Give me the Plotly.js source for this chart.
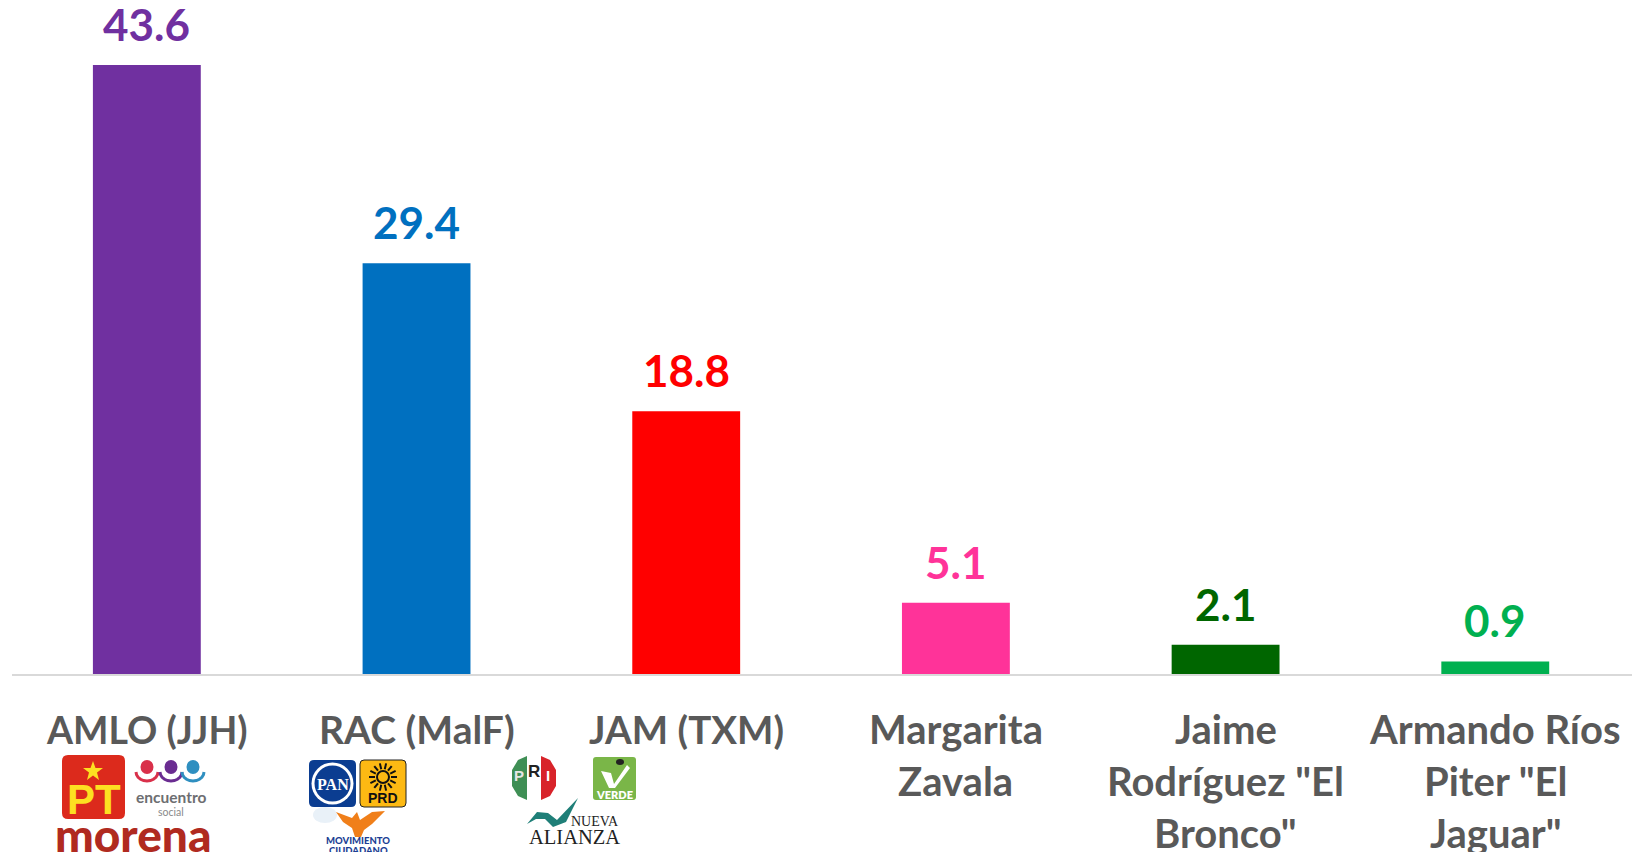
<!DOCTYPE html>
<html><head><meta charset="utf-8">
<script src="https://cdn.plot.ly/plotly-3.0.1.min.js"></script>
<style>html,body{margin:0;padding:0;background:#fff;overflow:hidden}#c{width:1636px;height:852px}</style>
</head><body><div id="c"></div>
<script>
const categories = ['AMLO (JJH)','RAC (MalF)','JAM (TXM)','Margarita Zavala','Jaime Rodríguez "El Bronco"','Armando Ríos Piter "El Jaguar"'];
const categoryLines = [['AMLO (JJH)'],['RAC (MalF)'],['JAM (TXM)'],['Margarita','Zavala'],['Jaime','Rodríguez "El','Bronco"'],['Armando Ríos','Piter "El','Jaguar"']];
const categorySizes = [37.5,39,38.5,40,40,40];
const values = [43.6,29.4,18.8,5.1,2.1,0.9];
const valueLabels = ['43.6','29.4','18.8','5.1','2.1','0.9'];
const barColors = ['#7030a0','#0070c0','#ff0000','#ff3399','#006600','#00b050'];

const W=1636,H=852,L=12,R=1632,T=0,B=674;
const FONT='Lato, Carlito, sans-serif';
const px=x=>(x-L)/(R-L), py=y=>(B-y)/(B-T);
const shapes=[], notes=[];
function rect(x0,y0,x1,y1,fill,line,lw,r){
  r=r||0;
  const P=(x,y)=>px(x)+','+py(y);
  const d='M'+P(x0+r,y0)+'L'+P(x1-r,y0)+'Q'+P(x1,y0)+' '+P(x1,y0+r)+'L'+P(x1,y1-r)+'Q'+P(x1,y1)+' '+P(x1-r,y1)+'L'+P(x0+r,y1)+'Q'+P(x0,y1)+' '+P(x0,y1-r)+'L'+P(x0,y0+r)+'Q'+P(x0,y0)+' '+P(x0+r,y0)+'Z';
  shapes.push({type:'path',xref:'paper',yref:'paper',path:d,fillcolor:fill,line:{color:line||fill,width:lw||0}});
}
function ell(cx,cy,rx,ry,fill,line,lw){shapes.push({type:'circle',xref:'paper',yref:'paper',x0:px(cx-rx),x1:px(cx+rx),y0:py(cy+ry),y1:py(cy-ry),fillcolor:fill,line:{color:line||fill,width:lw||0}});}
function poly(pts,fill,line,lw,open){const d='M'+pts.map(p=>px(p[0])+','+py(p[1])).join('L')+(open?'':'Z');shapes.push({type:'path',xref:'paper',yref:'paper',path:d,fillcolor:open?'rgba(0,0,0,0)':fill,line:{color:line||fill,width:lw||0}});}
function txt(s,x,y,size,color,weight,family){notes.push({text:s,xref:'paper',yref:'paper',x:px(x),y:py(y),xanchor:'center',yanchor:'middle',showarrow:false,borderpad:0,font:{family:family||FONT,size:size,color:color,weight:weight||400}});}

// value labels, anchored on the data scale
valueLabels.forEach((t,i)=>notes.push({text:t,x:i,y:values[i],xref:'x',yref:'y',yanchor:'bottom',xanchor:'center',yshift:13,showarrow:false,font:{family:FONT,size:44,color:barColors[i],weight:700}}));

// category labels, one text per line for the reference's line pitch
categoryLines.forEach((lines,i)=>lines.forEach((t,j)=>notes.push({text:t,x:i,xref:'x',yref:'paper',y:0,yanchor:'middle',xanchor:'center',yshift:-(55+52*j),showarrow:false,borderpad:0,font:{family:FONT,size:categorySizes[i],color:'#595959',weight:700}})));

// --- party logos (decoration under the axis labels) ---
// PT
rect(62,755,125,819,'#dc2a1c',null,0,6);
poly([[93,761],[95.5,768],[103,768],[97,772.5],[99,780],[93,775.5],[87,780],[89,772.5],[83,768],[90.5,768]],'#fde021');
txt('PT',93.5,799,42,'#fde021',900,'Liberation Sans');
// encuentro social
[[147,'#d9304a'],[171,'#6a2c91'],[193,'#2f8fc0']].forEach(c=>{
  ell(c[0],767,6.5,7,c[1]);
  const a=[];for(let t=0;t<=10;t++){const th=Math.PI*t/10;a.push([c[0]+11*Math.cos(th),772+9*Math.sin(th)]);}
  poly(a,null,c[1],3,true);
});
txt('encuentro',171,797,15.5,'#6d6e71',700);
txt('social',171,812,10.5,'#8a8a8a',400);
txt('morena',133,834,46,'#b02a20',900);
// PAN
rect(309,760,356,807,'#0b3d91',null,0,5);
ell(332.5,783.5,21,21,'#ffffff');
ell(332.5,783.5,18,18,'#0b3d91');
txt('PAN',332.5,784,16,'#ffffff',800,'Liberation Sans Narrow');
// PRD
rect(360,760,406,807,'#fdb913','#222222',1,4);
ell(383,777,6,6,'rgba(0,0,0,0)','#111111',2);
for(let i=0;i<14;i++){const th=2*Math.PI*i/14;poly([[383+8*Math.cos(th),777+8*Math.sin(th)],[383+14*Math.cos(th),777+14*Math.sin(th)]],null,'#111111',2,true);}
txt('PRD',383,798,14,'#111111',900,'Liberation Sans');
// Movimiento Ciudadano
ell(325,815,12,8,'#e9f1f8');
poly([[336,812],[352,818],[357,812],[360,820],[372,812],[385,811],[372,824],[364,830],[361,837],[355,837],[352,828],[343,822]],'#f07f1a');
txt('MOVIMIENTO',358,840,9.5,'#1c3f94',900);
txt('CIUDADANO',358,850,9.5,'#1c3f94',900);
// PRI
ell(534,778,22,23,'#ffffff');
poly([[527,756],[518,760],[512,770],[512,786],[518,796],[527,800]],'#3f8f55');
poly([[541,756],[550,760],[556,770],[556,786],[550,796],[541,800]],'#d8232a');
txt('P',519,775,15,'#e6e6e6',900,'Liberation Sans');
txt('R',533.5,771,17,'#222222',900,'Liberation Sans');
txt('I',548,775,15,'#ffffff',900,'Liberation Sans');
// VERDE
rect(593,757,636,800,'#7ab648',null,0,3);
poly([[601,771],[611,773],[614,784],[627,765],[630,768],[615,788],[609,788]],'#ffffff');
ell(620,762,4,3,'#222222');
txt('VERDE',614.5,794,11,'#ffffff',800);
// Nueva Alianza
poly([[527,824],[537,812],[548,813],[557,820],[578,798],[566,822],[553,827],[545,819],[536,819]],'#1f7f78');
txt('NUEVA',595,821,14,'#222222',400,'Liberation Serif');
txt('ALIANZA',574,837,20.5,'#222222',400,'Liberation Serif');

Plotly.newPlot('c',[{type:'bar',x:[0,1,2,3,4,5],y:values,text:categories,width:0.4,marker:{color:barColors,line:{width:0}},textposition:'none',hoverinfo:'text+y'}],{
  width:W,height:H,margin:{l:L,r:W-R,t:T,b:H-B,pad:0},
  paper_bgcolor:'#fff',plot_bgcolor:'#fff',showlegend:false,
  xaxis:{type:'linear',range:[-0.5,5.507],showticklabels:false,ticks:'',showline:true,linecolor:'#d9d9d9',linewidth:2,showgrid:false,zeroline:false,automargin:false},
  yaxis:{range:[0,674/13.97],visible:false,fixedrange:true},
  shapes:shapes,annotations:notes
},{displayModeBar:false,staticPlot:true});
</script></body></html>
